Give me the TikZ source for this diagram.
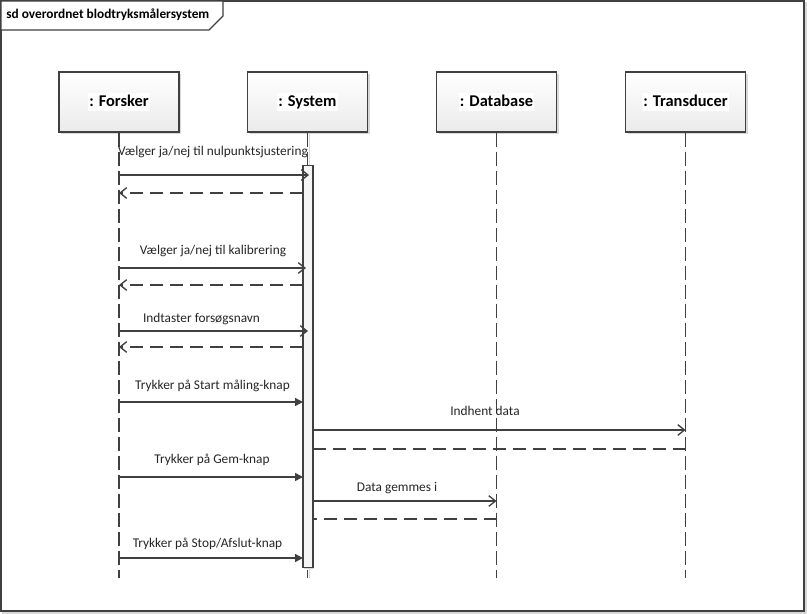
\documentclass[tikz,border=0pt]{standalone}
\usepackage{fontspec}
\setmainfont{Carlito}
\usetikzlibrary{arrows.meta,shadows}
\definecolor{ln}{HTML}{404040}
\definecolor{shd}{HTML}{D8D8D8}
\tikzset{
  px/.style={x=0.75pt,y=-0.75pt},
  head/.style={draw=ln,line width=0.8pt,minimum width=90pt,minimum height=45pt,
    top color=white,bottom color=black!8,
    drop shadow={shadow xshift=1.5pt,shadow yshift=-1.5pt,fill=shd,opacity=1}},
  headtxt/.style={fill=white,inner sep=1pt,text height=9pt,text depth=3pt,font=\bfseries\fontsize{12.3}{14}\selectfont},
  life/.style={draw=ln,line width=0.8pt,dash pattern=on 10.5pt off 3.75pt},
  actbar/.style={draw=ln,line width=0.8pt,fill=black!4,minimum width=7.5pt,inner sep=0pt,
    drop shadow={shadow xshift=1pt,shadow yshift=-1pt,fill=shd,opacity=1}},
  msg/.style={draw=ln,line width=1.1pt,-{Straight Barb[length=5pt,width=8pt,line width=1pt]}},
  smsg/.style={draw=ln,line width=1.1pt,-{Triangle[length=6pt,width=6pt]}},
  ret/.style={draw=ln,line width=1.1pt,dash pattern=on 9.75pt off 5.25pt,-{Straight Barb[length=5pt,width=8pt,line width=1pt]}},
  retn/.style={draw=ln,line width=1.1pt,dash pattern=on 9.75pt off 5.25pt},
  lbl/.style={inner sep=0pt,text height=7.5pt,text depth=2.5pt,yshift=-1.2pt,font=\fontsize{10}{12}\selectfont,text=black!85},
}
\begin{document}
\begin{tikzpicture}[px]
\useasboundingbox (0,0) rectangle (807,614);
% frame
\draw[shd,line width=0.8pt] (3,3) rectangle (806,613);
\draw[ln,line width=0.9pt,fill=white] (1,1) rectangle (804,611);
\draw[ln,line width=0.9pt,fill=white] (1,1) -- (223,1) -- (223,16) -- (209,30) -- (1,30) -- cycle;
\node[anchor=west,inner sep=0pt,text height=7.5pt,text depth=2.5pt,font=\bfseries\fontsize{10}{12}\selectfont] (title) at (6,15.5) {sd overordnet blodtryksmålersystem};
% lifeline heads
\node[head,label={[headtxt]center:: Forsker}] (forsker) at (119,102) {};
\node[head,label={[headtxt]center:: System}] (system) at (307.5,102) {};
\node[head,label={[headtxt]center:: Database}] (database) at (496.5,102) {};
\node[head,label={[headtxt]center:: Transducer}] (transducer) at (685.5,102) {};
% lifeline ends
\coordinate (fe) at (119,578);
\coordinate (se) at (307.5,578);
\coordinate (de) at (496.5,578);
\coordinate (te) at (685.5,578);
\draw[life] (forsker.south) -- (fe);
\draw[shd,line width=0.8pt] ([xshift=1.5pt]system.south) -- ([xshift=1.5pt]se);
\draw[life] (system.south) -- (se);
\draw[life] (database.south) -- (de);
\draw[life] (transducer.south) -- (te);
% activation bar
\node[actbar,minimum height=302pt] (act) at (308,366.5) {};
% message end points
\foreach \n/\y in {1/175,2/193,3/268,4/285,5/331,6/347,7/402,8/477,9/558}{
  \coordinate (f\n) at (119,\y);
  \coordinate (a\n) at (303,\y);
}
\coordinate (a3) at (306,268);
\coordinate (a1) at (309,175);
\coordinate (a5) at (308,331);
\foreach \n/\y in {1/430,2/449,3/501,4/519}{
  \coordinate (b\n) at (313,\y);
}
\coordinate (t1) at (685.5,430);
\coordinate (t2) at (685.5,449);
\coordinate (d1) at (496.5,501);
\coordinate (d2) at (496.5,519);
% messages
\draw[msg] (f1) -- (a1);
\draw[ret] (a2) -- (f2);
\draw[msg] (f3) -- (a3);
\draw[ret] (a4) -- (f4);
\draw[msg] (f5) -- (a5);
\draw[ret] (a6) -- (f6);
\draw[smsg] (f7) -- (a7);
\draw[msg] (b1) -- (t1);
\draw[retn] (t2) -- (b2);
\draw[smsg] (f8) -- (a8);
\draw[msg] (b3) -- (d1);
\draw[retn] (d2) -- (b4);
\draw[smsg] (f9) -- (a9);
% labels
\node[lbl] (l1) at (213,151) {Vælger ja/nej til nulpunktsjustering};
\node[lbl] (l2) at (213,250) {Vælger ja/nej til kalibrering};
\node[lbl] (l3) at (201.5,318) {Indtaster forsøgsnavn};
\node[lbl] (l4) at (212.5,385) {Trykker på Start måling-knap};
\node[lbl] (l5) at (485,411) {Indhent data};
\node[lbl] (l6) at (212,459) {Trykker på Gem-knap};
\node[lbl] (l7) at (397,487) {Data gemmes i};
\node[lbl] (l8) at (207.5,543) {Trykker på Stop/Afslut-knap};
\end{tikzpicture}
\end{document}
